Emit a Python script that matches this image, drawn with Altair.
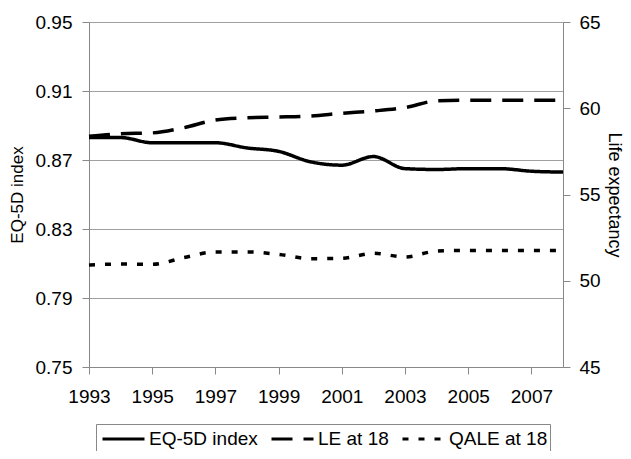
import altair as alt
import pandas as pd

years = list(range(1993, 2009))
eq5d = [0.883, 0.883, 0.880, 0.880, 0.880, 0.877, 0.875, 0.869, 0.867, 0.872,
        0.865, 0.8645, 0.865, 0.865, 0.8635, 0.863]
le18 = [58.38, 58.52, 58.57, 58.87, 59.32, 59.45, 59.49, 59.55, 59.71, 59.84,
        60.04, 60.43, 60.47, 60.47, 60.47, 60.47]
qale18 = [50.91, 50.97, 50.95, 51.34, 51.67, 51.67, 51.53, 51.28, 51.30, 51.59,
          51.38, 51.72, 51.76, 51.76, 51.76, 51.76]

series_names = ["EQ-5D index", "LE at 18", "QALE at 18"]
left_ticks = [0.75, 0.79, 0.83, 0.87, 0.91, 0.95]
right_ticks = [45, 50, 55, 60, 65]
x_ticks = [1993, 1995, 1997, 1999, 2001, 2003, 2005, 2007]

df_left = pd.DataFrame({"year": years, "value": eq5d, "series": series_names[0]})
df_right = pd.concat([
    pd.DataFrame({"year": years, "value": le18, "series": series_names[1]}),
    pd.DataFrame({"year": years, "value": qale18, "series": series_names[2]}),
])

FONT = "Liberation Sans"
W, H = 474, 345

x_enc = alt.X("year:Q",
              scale=alt.Scale(domain=[1993, 2008], nice=False, zero=False),
              axis=alt.Axis(values=x_ticks, format="d", grid=False, tickSize=7,
                            labelPadding=13, labelFontSize=19, labelColor="black",
                            domainColor="#888888", tickColor="#888888",
                            labelFlush=False, labelOverlap=False),
              title=None)

dash = alt.StrokeDash("series:N",
                      scale=alt.Scale(domain=series_names,
                                      range=[[1, 0], [21, 11], [6, 10]]),
                      legend=alt.Legend(title=None, orient="none", legendX=7, legendY=402,
                                        direction="horizontal", strokeColor="#888888",
                                        padding=2, symbolType="stroke", symbolSize=1764,
                                        symbolStrokeWidth=3, symbolStrokeColor="black",
                                        symbolOffset=3, clipHeight=26,
                                        labelFontSize=19, labelOffset=3, columnPadding=9,
                                        labelColor="black"))

left = alt.Chart(df_left).mark_line(color="black", strokeWidth=3.5, interpolate="monotone",
                                    strokeCap="butt").encode(
    x=x_enc,
    y=alt.Y("value:Q",
            scale=alt.Scale(domain=[0.75, 0.95], nice=False, zero=False),
            axis=alt.Axis(values=left_ticks, format=".2f", grid=True, gridColor="#a0a0a0",
                          domainColor="#888888", tickColor="#888888", tickSize=7,
                          labelPadding=10, labelFontSize=19, labelColor="black",
                          title="EQ-5D index", titleFontSize=17, titleFontWeight="normal",
                          titleColor="black", titleX=-72, titleY=H / 2, titleAngle=270,
                          titleAlign="center", titleBaseline="middle")),
    strokeDash=dash,
)

right = alt.Chart(df_right).mark_line(color="black", strokeWidth=3.5, interpolate="monotone",
                                      strokeCap="butt").encode(
    x=x_enc,
    y=alt.Y("value:Q",
            scale=alt.Scale(domain=[45, 65], nice=False, zero=False),
            axis=alt.Axis(orient="right", values=right_ticks, format="d", grid=False,
                          domainColor="#888888", tickColor="#888888", tickSize=7,
                          labelPadding=9, labelFontSize=19, labelColor="black",
                          title="Life expectancy", titleFontSize=18, titleFontWeight="normal",
                          titleColor="black", titleX=50, titleY=H / 2, titleAngle=90,
                          titleAlign="center", titleBaseline="middle")),
    strokeDash=dash,
)

chart = alt.layer(left, right).resolve_scale(y="independent").properties(
    width=W, height=H,
    autosize=alt.AutoSizeParams(type="none"),
    padding={"left": 81, "top": 14, "right": 60, "bottom": 84},
).configure(font=FONT).configure_view(strokeWidth=0)

chart.save("out.html", embed_options={"renderer": "svg", "actions": False})
